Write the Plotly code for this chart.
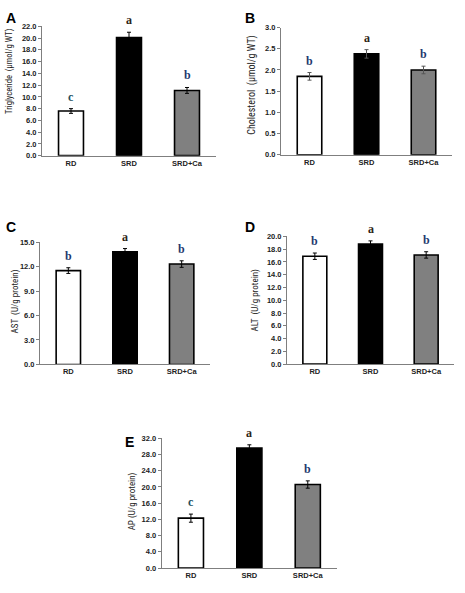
import plotly.graph_objects as go

W, H = 465, 593

categories = ["RD", "SRD", "SRD+Ca"]

tg_vals = [7.6, 20.1, 11.1]
tg_err = [0.4, 0.9, 0.5]
tg_letters = ["c", "a", "b"]

chol_vals = [1.85, 2.38, 2.0]
chol_err = [0.09, 0.10, 0.09]
chol_letters = ["b", "a", "b"]

ast_vals = [11.5, 13.8, 12.3]
ast_err = [0.35, 0.4, 0.4]
ast_letters = ["b", "a", "b"]

alt_vals = [16.9, 18.8, 17.1]
alt_err = [0.5, 0.5, 0.5]
alt_letters = ["b", "a", "b"]

ap_vals = [12.3, 29.6, 20.6]
ap_err = [1.0, 0.8, 0.9]
ap_letters = ["c", "a", "b"]

bar_colors = ["#ffffff", "#000000", "#808080"]
letter_colors = {"a": "#2e2416", "b": "#1f3a6e", "c": "#1d5060"}

NARROW = "Liberation Sans Narrow, Arial Narrow, Roboto Condensed, Liberation Sans, Arial"

def px_x(p):
    return p / W

def px_y(p):
    return 1 - p / H

panels = [
    dict(name="A", vals=tg_vals, err=tg_err, letters=tg_letters,
         title="Triglyceride  (\u00b5mol/g WT)", tsize=8.5, xpx=(42, 216), ypx=(22.7, 154),
         rng=22, dtick=2, lab=(11, 14), tit=(10, 68), ecol="#000000"),
    dict(name="B", vals=chol_vals, err=chol_err, letters=chol_letters,
         title="Cholesterol  (\u00b5mol/g WT)", tsize=10, xpx=(281, 452), ypx=(24, 153),
         rng=3, dtick=0.5, lab=(250, 14), tit=(252, 82), ecol="#555555"),
    dict(name="C", vals=ast_vals, err=ast_err, letters=ast_letters,
         title="AST  (U/g protein)", tsize=9, xpx=(40, 210), ypx=(241.7, 366),
         rng=15, dtick=3, lab=(11, 226), tit=(15, 302), ecol="#000000"),
    dict(name="D", vals=alt_vals, err=alt_err, letters=alt_letters,
         title="ALT  (U/g protein)", tsize=9, xpx=(287, 454), ypx=(236, 365.7),
         rng=20, dtick=2, lab=(250, 226), tit=(255, 300), ecol="#000000"),
    dict(name="E", vals=ap_vals, err=ap_err, letters=ap_letters,
         title="AP (U/g protein)", tsize=9, xpx=(161.7, 337), ypx=(441, 572.7),
         rng=32, dtick=4, lab=(129, 445), tit=(132, 505), ecol="#000000"),
]

fig = go.Figure()
annotations = []
layout = dict(
    width=W, height=H,
    margin=dict(l=0, r=0, t=0, b=0),
    paper_bgcolor="white", plot_bgcolor="white",
    showlegend=False,
    font=dict(family="Liberation Sans, Arial", color="#222222"),
)

for i, p in enumerate(panels):
    n = i + 1
    xa = "x" if n == 1 else f"x{n}"
    ya = "y" if n == 1 else f"y{n}"
    fig.add_trace(go.Bar(
        x=categories, y=p["vals"],
        xaxis=xa, yaxis=ya,
        width=0.43,
        marker=dict(color=bar_colors, line=dict(color="#000000", width=1.6)),
        error_y=dict(type="data", array=p["err"], visible=True,
                     color=p["ecol"], thickness=1, width=2),
        hoverinfo="skip",
    ))
    xkey = "xaxis" if n == 1 else f"xaxis{n}"
    ykey = "yaxis" if n == 1 else f"yaxis{n}"
    layout[xkey] = dict(
        domain=[px_x(p["xpx"][0]), px_x(p["xpx"][1])],
        anchor=ya, range=[-0.5, 2.5], type="category",
        showline=True, linecolor="#7f7f7f", linewidth=1,
        ticks="", showgrid=False, zeroline=False,
        tickfont=dict(size=7.5, color="#222222", weight="bold"),
        fixedrange=True,
    )
    layout[ykey] = dict(
        domain=[px_y(p["ypx"][1]), px_y(p["ypx"][0])],
        anchor=xa, range=[0, p["rng"]], dtick=p["dtick"], tick0=0,
        tickformat=".1f",
        showline=True, linecolor="#7f7f7f", linewidth=1,
        ticks="outside", ticklen=3, tickcolor="#7f7f7f",
        showgrid=False, zeroline=False,
        tickfont=dict(size=7.5, color="#222222", weight="bold"),
        fixedrange=True,
    )
    for c, v, e, L in zip(categories, p["vals"], p["err"], p["letters"]):
        annotations.append(dict(
            x=c, y=v + e, xref=xa, yref=ya, text=L, showarrow=False,
            yanchor="bottom", yshift=3,
            font=dict(family="Liberation Serif, Times New Roman", size=12,
                      color=letter_colors[L], weight="bold"),
        ))
    annotations.append(dict(
        x=px_x(p["lab"][0]), y=px_y(p["lab"][1]), xref="paper", yref="paper",
        text=p["name"], showarrow=False, xanchor="center", yanchor="middle",
        font=dict(family="Liberation Sans, Arial", size=14, color="#000000", weight="bold"),
    ))
    annotations.append(dict(
        x=px_x(p["tit"][0]), y=px_y(p["tit"][1]), xref="paper", yref="paper",
        text=p["title"], showarrow=False, textangle=-90,
        xanchor="center", yanchor="middle",
        font=dict(family=NARROW, size=p["tsize"], color="#222222"),
    ))

layout["annotations"] = annotations
fig.update_layout(**layout)
fig.write_html("out.html", config={"displayModeBar": False},
               post_script="document.body.style.margin='0';")
